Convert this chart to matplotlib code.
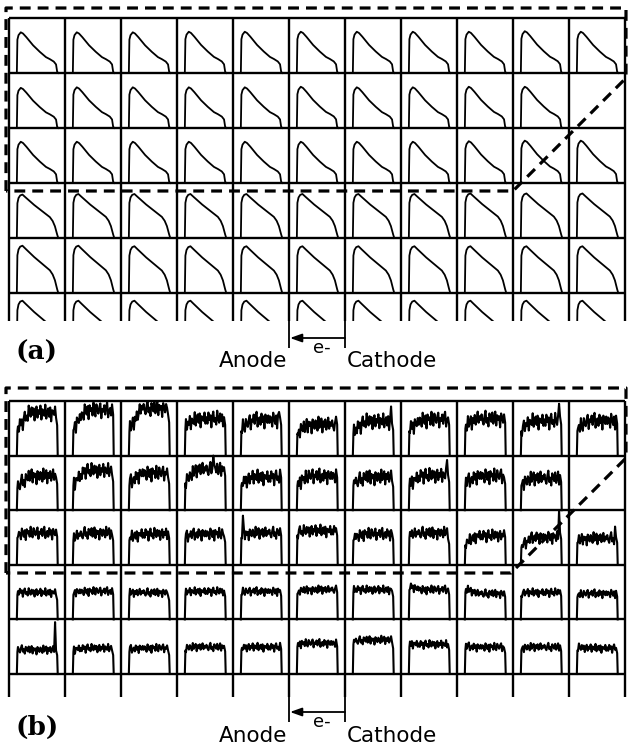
import matplotlib
matplotlib.use("Agg")
import matplotlib.pyplot as plt
import numpy as np

W, H = 628, 747
N_COLS = 11

# ---- panel (a): triangular pulses, two shape templates (normalised to peak = 1)
shape_a_top_x = [0.14, 0.15, 0.17, 0.21, 0.25, 0.31, 0.43, 0.55, 0.66, 0.73, 0.80, 0.84, 0.86, 0.88]
shape_a_top_y = [0.0, 0.82, 0.93, 1.0, 0.97, 0.88, 0.68, 0.52, 0.39, 0.34, 0.28, 0.21, 0.03, 0.0]
shape_a_bot_x = [0.14, 0.15, 0.17, 0.20, 0.24, 0.30, 0.45, 0.60, 0.73, 0.78, 0.82, 0.86, 0.88]
shape_a_bot_y = [0.0, 0.80, 0.92, 0.98, 1.0, 0.93, 0.76, 0.61, 0.48, 0.39, 0.27, 0.08, 0.0]
template_a_row = ["top", "top", "top", "bot", "bot", "bot"]
peak_a = [
    [0.74, 0.74, 0.74, 0.75, 0.75, 0.75, 0.75, 0.75, 0.75, 0.76, 0.75],
    [0.73, 0.74, 0.74, 0.74, 0.74, 0.75, 0.74, 0.74, 0.75, 0.75, np.nan],
    [0.75, 0.75, 0.75, 0.75, 0.75, 0.75, 0.75, 0.75, 0.76, 0.77, 0.77],
    [0.79, 0.80, 0.80, 0.80, 0.80, 0.80, 0.80, 0.80, 0.81, 0.81, 0.81],
    [0.86, 0.86, 0.85, 0.85, 0.85, 0.85, 0.85, 0.85, 0.85, 0.85, 0.85],
    [0.86, 0.86, 0.86, 0.86, 0.86, 0.86, 0.86, 0.86, 0.86, 0.86, 0.86],
]

# ---- panel (b): noisy flat-top pulses
start_b = [
    [0.50, 0.52, 0.48, 0.55, 0.50, 0.45, 0.45, 0.50, 0.55, 0.50, 0.50],
    [0.45, 0.50, 0.50, 0.55, 0.50, 0.50, 0.50, 0.50, 0.50, 0.50, np.nan],
    [0.55, 0.50, 0.50, 0.52, 0.55, 0.60, 0.50, 0.55, 0.40, 0.35, 0.45],
    [0.50, 0.50, 0.48, 0.50, 0.50, 0.52, 0.55, 0.60, 0.55, 0.48, 0.45],
    [0.45, 0.45, 0.45, 0.48, 0.48, 0.55, 0.60, 0.55, 0.50, 0.48, 0.48],
]
level_b = [
    [0.78, 0.82, 0.86, 0.67, 0.65, 0.56, 0.62, 0.65, 0.67, 0.63, 0.63],
    [0.62, 0.72, 0.67, 0.74, 0.60, 0.62, 0.60, 0.63, 0.62, 0.58, np.nan],
    [0.58, 0.58, 0.56, 0.56, 0.58, 0.62, 0.56, 0.58, 0.53, 0.50, 0.48],
    [0.49, 0.51, 0.49, 0.51, 0.51, 0.54, 0.54, 0.54, 0.47, 0.49, 0.47],
    [0.44, 0.47, 0.47, 0.49, 0.49, 0.56, 0.62, 0.54, 0.49, 0.49, 0.47],
]
noise_amp_b = [0.17, 0.16, 0.13, 0.09, 0.09]
# (row, col, position in plateau 0..1, height)
spikes_b = [
    (0, 4, 0.98, 0.80), (0, 6, 0.98, 0.90), (0, 9, 0.98, 0.95),
    (1, 3, 0.72, 1.00), (1, 7, 0.98, 0.92), (2, 4, 0.03, 0.90),
    (2, 9, 0.98, 1.00), (2, 10, 0.98, 0.70), (4, 0, 0.98, 0.95),
]
noise_patterns = [
    [0.2, -0.5, 0.7, -0.1, 0.4, -0.9, 0.3, 0.8, -0.3, 0.1, -0.6, 0.9, 0.0, -0.4, 0.6, -0.2, 0.5, -0.8, 0.2, 0.7,
     -0.5, 0.3, -0.1, 0.8, -0.7, 0.4, 0.0, -0.3, 0.9, -0.6, 0.1, 0.5, -0.4, 0.6, -0.9, 0.3, 0.2, -0.2, 0.7, -0.5],
    [-0.3, 0.4, 0.1, -0.7, 0.8, 0.2, -0.4, 0.5, -0.9, 0.6, 0.0, 0.3, -0.5, 0.9, -0.2, -0.6, 0.7, 0.1, -0.3, 0.4,
     0.8, -0.8, 0.2, -0.1, 0.6, -0.4, 0.5, 0.9, -0.7, 0.0, 0.3, -0.5, 0.7, -0.2, 0.4, -0.9, 0.6, 0.1, -0.3, 0.5],
    [0.5, -0.2, -0.6, 0.3, 0.9, -0.4, 0.1, -0.8, 0.6, 0.2, -0.3, 0.7, -0.5, 0.0, 0.8, -0.7, 0.4, -0.1, 0.3, -0.9,
     0.6, 0.2, -0.4, 0.5, 0.1, -0.6, 0.9, -0.3, 0.2, 0.7, -0.8, 0.4, -0.2, 0.6, -0.5, 0.0, 0.8, -0.4, 0.3, -0.1],
]

# ---- layout in pixels
grid_left, cell_w = 9, 56
panels = {
    # top, row height, full rows, bottom (partial row cut)
    "a": dict(top=18, row_h=55.0, rows=5, bottom=321),
    "b": dict(top=401, row_h=54.6, rows=5, bottom=697),
}

fig = plt.figure(figsize=(W / 100, H / 100), dpi=100)


def panel_axes(p):
    x0 = grid_left / W
    w = N_COLS * cell_w / W
    y0 = 1 - p["bottom"] / H
    h = (p["bottom"] - p["top"]) / H
    ax = fig.add_axes([x0, y0, w, h])
    ax.set_xlim(0, N_COLS)
    ax.set_ylim((p["bottom"] - p["top"]) / p["row_h"], 0)
    ax.axis("off")
    ymax = (p["bottom"] - p["top"]) / p["row_h"]
    ax.vlines(range(N_COLS + 1), 0, ymax, color="black", lw=1.7, clip_on=False)
    ax.hlines(range(p["rows"] + 1), 0, N_COLS, color="black", lw=1.7, clip_on=False)
    return ax


# panel (a)
ax_a = panel_axes(panels["a"])
for r, row in enumerate(peak_a):
    sx, sy = (shape_a_top_x, shape_a_top_y) if template_a_row[r] == "top" else (shape_a_bot_x, shape_a_bot_y)
    for c, pk in enumerate(row):
        if np.isnan(pk):
            continue
        ax_a.plot(c + np.array(sx), r + 1 - pk * np.array(sy), color="black", lw=1.3)

# panel (b)
ax_b = panel_axes(panels["b"])
n_pts = len(noise_patterns[0])
t = np.linspace(0, 1, n_pts)
xs = 0.16 + 0.68 * t
for r in range(len(level_b)):
    for c in range(N_COLS):
        lv = level_b[r][c]
        if np.isnan(lv):
            continue
        pat = np.roll(noise_patterns[(r * N_COLS + c) % 3], c * 7)
        trend = np.interp(t, [0, 0.3, 1], [start_b[r][c], lv, lv])
        vals = trend + noise_amp_b[r] * np.array(pat)
        for sr, sc, pos, hgt in spikes_b:
            if sr == r and sc == c:
                vals[int(round(pos * (n_pts - 1)))] = hgt
        x = np.concatenate([[0.14, 0.15], xs, [0.86, 0.87]]) + c
        v = np.concatenate([[0.0, start_b[r][c] * 0.9], vals, [vals[-1] * 0.8, 0.0]])
        ax_b.plot(x, r + 1 - v, color="black", lw=1.5)

# ---- overlay in pixel coordinates: dashed boxes, arrows, labels
ov = fig.add_axes([0, 0, 1, 1], zorder=5)
ov.set_xlim(0, W)
ov.set_ylim(H, 0)
ov.axis("off")
ov.patch.set_alpha(0)

dash = dict(color="black", lw=2.3, linestyle=(0, (3.4, 2.2)), solid_capstyle="butt")
for top, knee_y, bot in [(8, 78, 191), (388, 458, 573)]:
    ov.plot([6, 6, 626, 626, 626 - (bot - knee_y), 6],
            [bot, top, top, knee_y, bot, bot], **dash)

for label, y_grid, y_arrow, y_text, y_lbl in [("(a)", 321, 338, 367, 352), ("(b)", 697, 712, 742, 727)]:
    ov.vlines([289, 345], y_grid, y_arrow + 10, color="black", lw=1.3)
    ov.annotate("", xy=(290, y_arrow), xytext=(345, y_arrow),
                arrowprops=dict(arrowstyle="-|>,head_length=0.7,head_width=0.25", color="black", lw=1.3,
                                shrinkA=0, shrinkB=0))
    ov.text(322, y_arrow + 1, "e-", ha="center", va="top", fontsize=13, family="DejaVu Sans")
    ov.text(287, y_text, "Anode", ha="right", va="baseline", fontsize=15.5, family="DejaVu Sans")
    ov.text(347, y_text, "Cathode", ha="left", va="baseline", fontsize=15.5, family="DejaVu Sans")
    ov.text(15, y_lbl, label, ha="left", va="center", fontsize=19, family="DejaVu Serif", weight="bold")

fig.savefig("out.png", dpi=100)
